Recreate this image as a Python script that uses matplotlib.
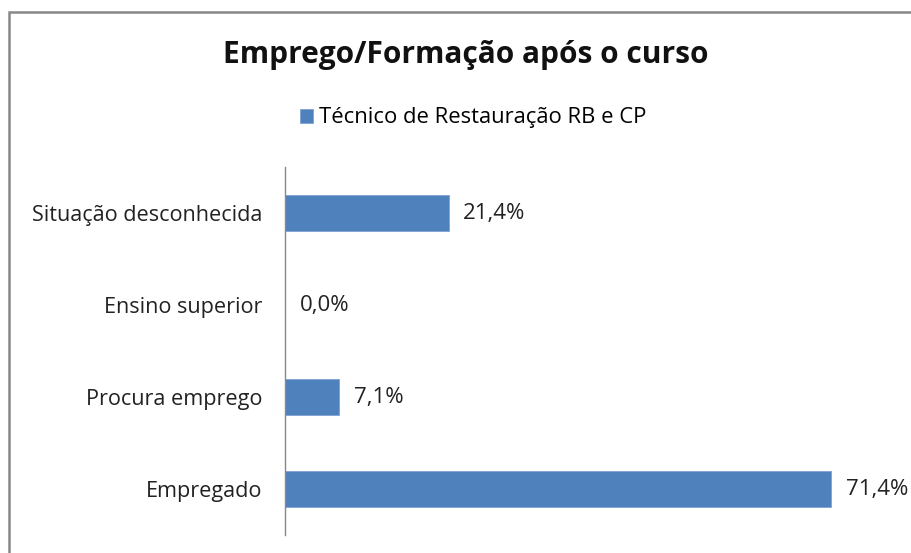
import matplotlib.pyplot as plt
from matplotlib.patches import Rectangle

# data
categorias = ["Empregado", "Procura emprego", "Ensino superior", "Situação desconhecida"]
valores = [71.4, 7.1, 0.0, 21.4]
serie = "Técnico de Restauração RB e CP"
titulo = "Emprego/Formação após o curso"

plt.rcParams['font.family'] = ['Open Sans', 'DejaVu Sans']

fig = plt.figure(figsize=(9.12, 5.53), dpi=100)
ax = fig.add_axes([285 / 912, 1 - 535 / 553, 612 / 912, 368 / 553])

bars = ax.barh(range(len(categorias)), valores, height=0.39, color="#4F81BD",
               edgecolor="#7FA2D3", linewidth=0.6, label=serie)
for i, v in enumerate(valores):
    ax.text(v + 1.9, i, f"{v:.1f}%".replace(".", ","), va="center", ha="left",
            fontsize=16, color="#222222")

ax.set_xlim(0, 80)
ax.set_ylim(-0.5, 3.5)
ax.set_yticks(range(len(categorias)))
ax.set_yticklabels(categorias, fontsize=15.6, color="#222222")
ax.tick_params(axis="y", length=0, pad=16.5)
ax.set_xticks([])
for s in ["top", "right", "bottom"]:
    ax.spines[s].set_visible(False)
ax.spines["left"].set_color("#888888")
ax.spines["left"].set_linewidth(1)

fig.text(466 / 912, 1 - 55 / 553, titulo, ha="center", va="center",
         fontsize=21.5, fontweight="bold", color="#111111")
fig.legend(handles=[bars], loc="center", bbox_to_anchor=(473 / 912, 1 - 118 / 553),
           frameon=False, fontsize=15.8, handlelength=0.6, handleheight=0.6,
           handletextpad=0.25)

# chart border
fig.patches.append(Rectangle((9 / 912, -0.1), 1.0, 1 - 12 / 553 + 0.1,
                             transform=fig.transFigure, fill=False,
                             edgecolor="#888888", linewidth=1.8))

fig.savefig("out.png", dpi=100)
